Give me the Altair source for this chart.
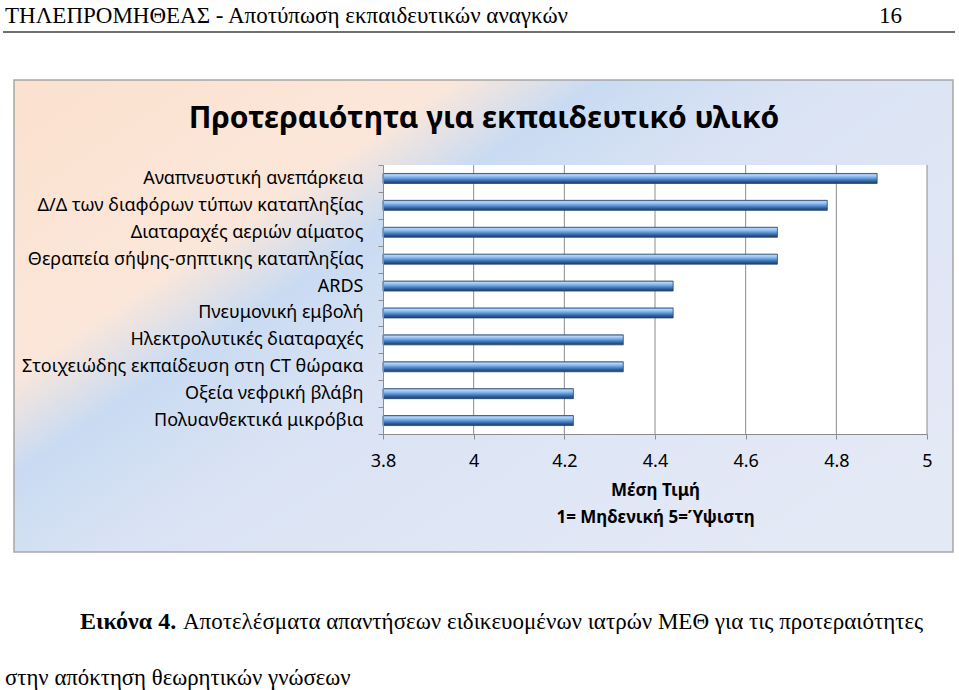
import altair as alt
import pandas as pd

HEADER = "ΤΗΛΕΠΡΟΜΗΘΕΑΣ - Αποτύπωση εκπαιδευτικών αναγκών"
PAGE = "16"
TITLE = "Προτεραιότητα για εκπαιδευτικό υλικό"
X_TITLE = ["Μέση Τιμή", "1= Μηδενική 5=Ύψιστη"]
CAPTION_LABEL = "Εικόνα 4."
CAPTION_TEXT = "Αποτελέσματα απαντήσεων ειδικευομένων ιατρών ΜΕΘ για τις προτεραιότητες"
CAPTION_LINE2 = "στην απόκτηση θεωρητικών γνώσεων"

categories = [
    "Αναπνευστική ανεπάρκεια",
    "Δ/Δ των διαφόρων τύπων καταπληξίας",
    "Διαταραχές αεριών αίματος",
    "Θεραπεία σήψης-σηπτικης καταπληξίας",
    "ARDS",
    "Πνευμονική εμβολή",
    "Ηλεκτρολυτικές διαταραχές",
    "Στοιχειώδης εκπαίδευση στη CT θώρακα",
    "Οξεία νεφρική βλάβη",
    "Πολυανθεκτικά μικρόβια",
]
values = [4.89, 4.78, 4.67, 4.67, 4.44, 4.44, 4.33, 4.33, 4.22, 4.22]
x_ticks = [3.8, 4.0, 4.2, 4.4, 4.6, 4.8, 5.0]
x_min, x_max = 3.8, 5.0

W, H = 544, 269
PL, PT = 383, 165

df = pd.DataFrame({"cat": categories, "value": values})
grid_df = pd.DataFrame({"v": x_ticks[1:]})


def one(s=""):
    return pd.DataFrame({"t": [s]})


xscale = alt.Scale(domain=[x_min, x_max], zero=False, nice=False)
x_axis = alt.Axis(
    values=x_ticks, format="~g", grid=False, title=X_TITLE,
    tickSize=5, labelPadding=13, labelFontSize=18, labelFont="Noto Sans",
    labelColor="black", titleFont="Noto Sans", titleFontWeight="bold",
    titleFontSize=17, titleColor="black", titlePadding=12, titleLineHeight=27,
    domainColor="#8c8c8c", tickColor="#8c8c8c", zindex=1, labelFlush=False,
)

bg_grad = alt.Gradient(
    gradient="linear", x1=0, y1=0, x2=1, y2=0.75,
    stops=[
        alt.GradientStop(offset=0, color="#fbe1ce"),
        alt.GradientStop(offset=0.3, color="#fbe7da"),
        alt.GradientStop(offset=0.4, color="#c9dbf2"),
        alt.GradientStop(offset=0.55, color="#dae3f4"),
        alt.GradientStop(offset=1, color="#e4e9f6"),
    ],
)

bar_grad = alt.Gradient(
    gradient="linear", x1=0, y1=0, x2=0, y2=1,
    stops=[
        alt.GradientStop(offset=0, color="#6d9fd8"),
        alt.GradientStop(offset=0.15, color="#b8d6f7"),
        alt.GradientStop(offset=0.38, color="#7db2ec"),
        alt.GradientStop(offset=0.58, color="#5089c9"),
        alt.GradientStop(offset=0.8, color="#2c5a94"),
        alt.GradientStop(offset=1, color="#1d3f6e"),
    ],
)

bg = alt.Chart(one()).mark_rect(fill=bg_grad, stroke="#a6a6a6", strokeWidth=1.5).encode(
    x=alt.value(14 - PL), x2=alt.value(953 - PL), y=alt.value(80 - PT), y2=alt.value(552 - PT)
)
plot_bg = alt.Chart(one()).mark_rect(fill="white").encode(
    x=alt.value(0), x2=alt.value(W), y=alt.value(0), y2=alt.value(H)
)
grid = alt.Chart(grid_df).mark_rule(color="#8c8c8c", strokeWidth=1).encode(
    x=alt.X("v:Q", scale=xscale, axis=x_axis), y=alt.value(0), y2=alt.value(H)
)
bars = alt.Chart(df).mark_bar(size=10, fill=bar_grad, stroke="#24466f", strokeWidth=0.8).encode(
    y=alt.Y(
        "cat:N", sort=categories,
        scale=alt.Scale(paddingInner=0, paddingOuter=0),
        axis=alt.Axis(
            title=None, tickSize=5, tickBand="extent", labelPadding=15,
            labelFontSize=18, labelFont="Noto Sans", labelColor="black",
            labelLimit=420, domainColor="#8c8c8c", tickColor="#8c8c8c", zindex=1,
        ),
    ),
    x=alt.X("value:Q", scale=xscale, axis=x_axis),
    x2=alt.datum(x_min),
)


def text_layer(s, x, y, font, size, weight="normal", align="left", color="black"):
    return alt.Chart(one(s)).mark_text(
        align=align, baseline="middle", font=font, fontSize=size, fontWeight=weight, color=color
    ).encode(x=alt.value(x - PL), y=alt.value(y - PT), text="t:N")


header = text_layer(HEADER, 5, 16, "Liberation Serif", 23)
page = text_layer(PAGE, 879, 16, "Liberation Serif", 23)
header_line = alt.Chart(one()).mark_rule(color="#404040", strokeWidth=1.5).encode(
    x=alt.value(3 - PL), x2=alt.value(955 - PL), y=alt.value(32 - PT)
)
title = text_layer(TITLE, 484, 119, "Noto Sans", 30, weight="bold", align="center")
cap1 = text_layer(CAPTION_LABEL, 80, 622, "Liberation Serif", 24, weight="bold")
cap2 = text_layer(CAPTION_TEXT, 183, 622, "Liberation Sans Narrow", 23)
cap3 = text_layer(CAPTION_LINE2, 5, 678, "Liberation Sans Narrow", 22.8)

chart = alt.layer(
    bg, plot_bg, grid, bars, header, page, header_line, title, cap1, cap2, cap3
).properties(
    width=W, height=H,
    padding={"left": PL, "top": PT, "right": 959 - PL - W, "bottom": 690 - PT - H},
    autosize="none", background="white",
).configure_view(stroke=None)

chart.save("out.html", embed_options={"renderer": "svg", "actions": False})
